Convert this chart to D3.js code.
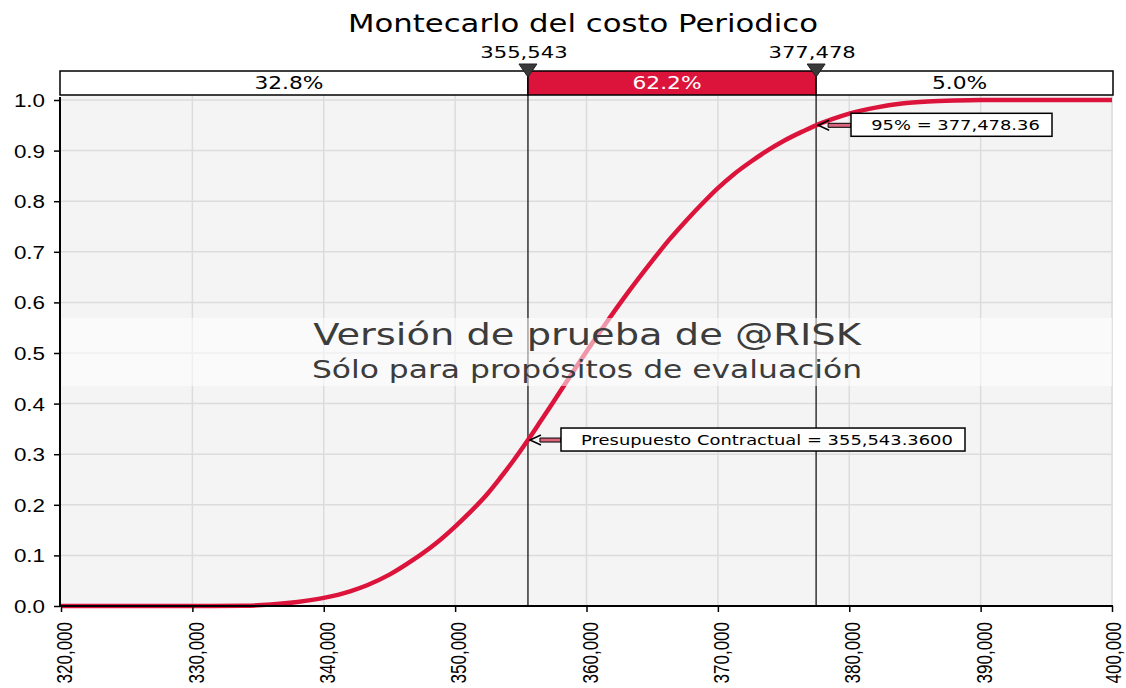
<!DOCTYPE html>
<html>
<head>
<meta charset="utf-8">
<script src="https://cdn.jsdelivr.net/npm/d3@7"></script>
<style>
  body { margin: 0; background: #fff; }
  svg { display: block; font-family: "DejaVu Sans", Verdana, sans-serif; }
</style>
</head>
<body>
<svg id="chart" width="1126" height="688"></svg>
<script>
// simulated cumulative distribution
const costValues = [320000, 330000, 334000, 336000, 338000, 340000, 342000, 343300, 345000, 346800,
  348500, 350000, 351200, 352400, 353400, 354400, 355543, 356500, 357400, 358700, 360000, 361400,
  362800, 365000, 366300, 367600, 368800, 370000, 371200, 372500, 373700, 375000, 376300, 377478,
  378700, 380000, 382000, 384000, 386000, 388000, 390000, 400000];
const cumProb = [0, 0, 0.0005, 0.003, 0.008, 0.016, 0.029, 0.041, 0.062, 0.091,
  0.123, 0.157, 0.187, 0.220, 0.252, 0.286, 0.328, 0.365, 0.400, 0.452, 0.503, 0.556,
  0.607, 0.682, 0.724, 0.762, 0.795, 0.826, 0.853, 0.878, 0.899, 0.919, 0.936, 0.950,
  0.962, 0.973, 0.985, 0.993, 0.997, 0.999, 1.0, 1.0];

const xTicks = [320000, 330000, 340000, 350000, 360000, 370000, 380000, 390000, 400000];
const yTicks = [0, 0.1, 0.2, 0.3, 0.4, 0.5, 0.6, 0.7, 0.8, 0.9, 1.0];

const markerValues = [355543.36, 377478.36];
const markerLabels = ['355,543', '377,478'];
const markerProbs = [0.328, 0.95];
const segmentLabels = ['32.8%', '62.2%', '5.0%'];
const noteLabels = ['Presupuesto Contractual = 355,543.3600', '95% = 377,478.36'];

const red = '#dc143c';
const SX = 1.28; // the picture is stretched sideways

const svg = d3.select('#chart');
const plotL = 60, plotR = 1113, plotT = 100, plotB = 606;
const barTop = 71, barBottom = 95;

const x = d3.scaleLinear().domain([320000, 400000]).range([61, 1112]);
const y = d3.scaleLinear().domain([0, 1]).range([plotB, plotT]);

function stext(g, tx, ty, str, size, anchor) {
  return g.append('text')
    .attr('transform', `translate(${tx},${ty}) scale(${SX},1)`)
    .attr('text-anchor', anchor || 'middle')
    .style('font-size', size + 'px')
    .text(str);
}

// title
stext(svg, 583, 32, 'Montecarlo del costo Periodico', 24).attr('fill', '#000');

// plot background
svg.append('rect').attr('x', plotL).attr('y', barBottom)
  .attr('width', plotR - plotL).attr('height', plotB - barBottom).attr('fill', '#f4f4f4');

// grid
svg.append('g').selectAll('line').data(xTicks.slice(1)).join('line')
  .attr('x1', d => x(d)).attr('x2', d => x(d)).attr('y1', barBottom).attr('y2', plotB)
  .attr('stroke', '#dcdcdc').attr('stroke-width', 1.5);
svg.append('g').selectAll('line').data(yTicks.slice(1)).join('line')
  .attr('x1', plotL).attr('x2', plotR).attr('y1', d => y(d)).attr('y2', d => y(d))
  .attr('stroke', '#dcdcdc').attr('stroke-width', 1.5);

// marker lines
svg.append('g').selectAll('line').data(markerValues).join('line')
  .attr('x1', d => x(d)).attr('x2', d => x(d)).attr('y1', barTop).attr('y2', plotB)
  .attr('stroke', '#333').attr('stroke-width', 1.5);

// cdf curve
const line = d3.line().x(d => x(d[0])).y(d => y(d[1])).curve(d3.curveMonotoneX);
svg.append('path').datum(costValues.map((v, i) => [v, cumProb[i]]))
  .attr('d', line).attr('fill', 'none').attr('stroke', red).attr('stroke-width', 4.5);

// axes
const xAxis = svg.append('g').attr('transform', `translate(0,${plotB})`)
  .call(d3.axisBottom(x).tickValues(xTicks).tickSize(6).tickFormat(''));
xAxis.select('.domain').attr('d', `M${plotL},0H${plotR}`).attr('stroke', '#000').attr('stroke-width', 2);
xAxis.selectAll('.tick line').attr('stroke', '#000').attr('stroke-width', 1.5);
xAxis.selectAll('.tick').append('text')
  .attr('transform', (d, i) => `translate(${i === xTicks.length - 1 ? 1 : 3},16) scale(${SX},1) rotate(-90)`)
  .attr('text-anchor', 'end').attr('dy', '0.35em')
  .attr('fill', '#000').style('font-size', '17px')
  .text(d => d3.format(',')(d));

const yAxis = svg.append('g').attr('transform', `translate(${plotL},0)`)
  .call(d3.axisLeft(y).tickValues(yTicks).tickSize(6).tickFormat(''));
yAxis.select('.domain').attr('d', `M0,${barBottom + 2}V${plotB}`).attr('stroke', '#000').attr('stroke-width', 2);
yAxis.selectAll('.tick line').attr('stroke', '#000').attr('stroke-width', 1.5);
yAxis.selectAll('.tick').each(function(d) {
  stext(d3.select(this), -15, 6.5, d3.format('.1f')(d), 17.5, 'end').attr('fill', '#000');
});

// watermark band
svg.append('rect').attr('x', plotL + 2).attr('y', 318).attr('width', plotR - plotL - 3).attr('height', 68)
  .attr('fill', '#fff').attr('opacity', 0.55);
stext(svg, 587, 345, 'Versión de prueba de @RISK', 30).attr('fill', '#3c3c3c');
stext(svg, 587, 378, 'Sólo para propósitos de evaluación', 24.5).attr('fill', '#3c3c3c');

// top range bar
const edges = [320000, markerValues[0], markerValues[1], 400000];
const bar = svg.append('g');
bar.selectAll('rect').data(segmentLabels).join('rect')
  .attr('x', (d, i) => i === 0 ? plotL : x(edges[i]))
  .attr('width', (d, i) => (i === 2 ? plotR : x(edges[i + 1])) - (i === 0 ? plotL : x(edges[i])))
  .attr('y', barTop).attr('height', barBottom - barTop)
  .attr('fill', (d, i) => i === 1 ? red : '#fff')
  .attr('stroke', '#000').attr('stroke-width', 1.5);
segmentLabels.forEach((s, i) => {
  const a = i === 0 ? plotL : x(edges[i]);
  const b = i === 2 ? plotR : x(edges[i + 1]);
  stext(bar, (a + b) / 2 - 5, 89, s, 17).attr('fill', i === 1 ? '#fff' : '#000');
});

// marker triangles and labels
markerValues.forEach((v, i) => {
  const mx = x(v);
  svg.append('path').attr('d', `M${mx - 9},64L${mx + 9},64L${mx},77Z`)
    .attr('fill', '#3a3a3a').attr('stroke', '#222').attr('stroke-width', 1);
  stext(svg, mx - 4, 58, markerLabels[i], 16.5).attr('fill', '#000');
});

// callouts
const notes = [
  { v: markerValues[0], p: markerProbs[0], bx: 561, bw: 404, text: noteLabels[0] },
  { v: markerValues[1], p: markerProbs[1], bx: 851, bw: 201, text: noteLabels[1] }
];
notes.forEach(n => {
  const px = x(n.v), py = y(n.p);
  const g = svg.append('g');
  g.append('path')
    .attr('d', `M${px + 12},${py - 2}H${n.bx}V${py + 2}H${px + 12}Z`)
    .attr('fill', '#d9647c').attr('stroke', '#000').attr('stroke-width', 1);
  g.append('path')
    .attr('d', `M${px + 13},${py - 5}L${px + 2},${py}L${px + 13},${py + 5}`)
    .attr('fill', 'none').attr('stroke', '#000').attr('stroke-width', 1.5);
  g.append('rect').attr('x', n.bx).attr('y', py - 12).attr('width', n.bw).attr('height', 23)
    .attr('fill', '#fff').attr('stroke', '#000').attr('stroke-width', 1.5);
  stext(g, n.bx + n.bw / 2 + 4, py + 5, n.text, 14).attr('fill', '#000');
});
</script>
</body>
</html>
